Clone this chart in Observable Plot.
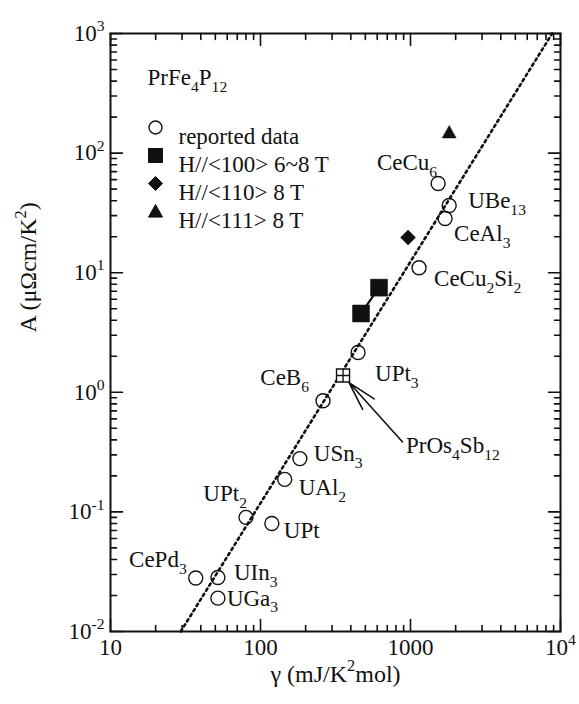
<!DOCTYPE html>
<html>
<head>
<meta charset="utf-8">
<script src="https://cdn.jsdelivr.net/npm/d3@7"></script>
<script src="https://cdn.jsdelivr.net/npm/@observablehq/plot@0.6"></script>
<style>
  html, body { margin: 0; padding: 0; background: white; }
  #chart { width: 579px; height: 704px; }
</style>
</head>
<body>
<div id="chart"></div>
<script>
// ---------------- data ----------------
const reportedNames = ["CePd_{3}", "UIn_{3}", "UGa_{3}", "UPt_{2}", "UPt", "UAl_{2}", "USn_{3}", "CeB_{6}", "UPt_{3}", "CeCu_{2}Si_{2}", "CeAl_{3}", "UBe_{13}", "CeCu_{6}"];
const reportedGamma = [37, 52, 52, 80, 119, 145, 183, 261, 447, 1140, 1700, 1811, 1528];
const reportedA     = [0.028, 0.0283, 0.019, 0.09, 0.08, 0.187, 0.279, 0.85, 2.15, 11, 28.4, 36.5, 55.7];

const h100Gamma = [468, 617];
const h100A     = [4.56, 7.5];
const h110Gamma = [963];
const h110A     = [19.7];
const h111Gamma = [1811];
const h111A     = [149];

const prosName  = "PrOs_{4}Sb_{12}";
const prosGamma = [355];
const prosA     = [1.38];

const kwGamma = [29.4, 8800];
const kwA     = [0.01, 1000];

const xTicks      = [10, 100, 1000, 10000];
const xTickLabels = ["10", "100", "1000", "10^{4}"];
const yTicks      = [0.01, 0.1, 1, 10, 100, 1000];
const yTickLabels = ["10^{-2}", "10^{-1}", "10^{0}", "10^{1}", "10^{2}", "10^{3}"];

const legendLabels = ["reported data", "H//<100> 6~8 T", "H//<110> 8 T", "H//<111> 8 T"];
const sampleTitle  = "PrFe_{4}P_{12}";
const xTitle = "γ (mJ/K^{2}mol)";
const yTitle = "A (μΩcm/K^{2})";

// ---------------- styling ----------------
const FONT = "'Liberation Serif', 'Times New Roman', serif";
const INK = "#111";
const labelStyle = {
  "CePd_{3}": {dx: -9, dy: -18, anchor: "end"},
  "UIn_{3}": {dx: 16, dy: -5, anchor: "start"},
  "UGa_{3}": {dx: 9, dy: 0, anchor: "start"},
  "UPt_{2}": {dx: 1, dy: -24, anchor: "end"},
  "UPt": {dx: 12, dy: 7, anchor: "start"},
  "UAl_{2}": {dx: 14, dy: 8, anchor: "start"},
  "USn_{3}": {dx: 14, dy: -5, anchor: "start"},
  "CeB_{6}": {dx: -14, dy: -23, anchor: "end"},
  "UPt_{3}": {dx: 17, dy: 21, anchor: "start"},
  "CeCu_{2}Si_{2}": {dx: 15, dy: 11, anchor: "start"},
  "CeAl_{3}": {dx: 9, dy: 15, anchor: "start"},
  "UBe_{13}": {dx: 19, dy: -5, anchor: "start"},
  "CeCu_{6}": {dx: -1, dy: -21, anchor: "end"}
};

// custom symbols: r = half extent
const rOf = (size) => Math.sqrt(size / Math.PI);
const symSquare = {draw(c, s) { const r = rOf(s); c.moveTo(-r, -r); c.lineTo(r, -r); c.lineTo(r, r); c.lineTo(-r, r); c.closePath(); }};
const symDiamond = {draw(c, s) { const r = rOf(s); c.moveTo(0, -r); c.lineTo(r, 0); c.lineTo(0, r); c.lineTo(-r, 0); c.closePath(); }};
const symTriangle = {draw(c, s) { const r = rOf(s); c.moveTo(0, -r); c.lineTo(r, 0.8 * r); c.lineTo(-r, 0.8 * r); c.closePath(); }};
const symSquarePlus = {draw(c, s) { const r = rOf(s); c.moveTo(-r, -r); c.lineTo(r, -r); c.lineTo(r, r); c.lineTo(-r, r); c.closePath(); c.moveTo(-r, 0); c.lineTo(r, 0); c.moveTo(0, -r); c.lineTo(0, r); }};
const tickShape = {draw(c, l) { c.moveTo(0, 0); c.lineTo(0, -l); }};
const arrowShape = {draw(c, l) {
  c.moveTo(0, 0); c.lineTo(0, -l);
  const hl = 30, a = 15 * Math.PI / 180;
  c.moveTo(-hl * Math.sin(a), -l + hl * Math.cos(a)); c.lineTo(0, -l); c.lineTo(hl * Math.sin(a), -l + hl * Math.cos(a));
}};

// ---------------- tables ----------------
const reported = reportedNames.map((n, i) => ({name: n, g: reportedGamma[i], a: reportedA[i]}));
const h100 = h100Gamma.map((g, i) => ({g, a: h100A[i]}));
const h110 = h110Gamma.map((g, i) => ({g, a: h110A[i]}));
const h111 = h111Gamma.map((g, i) => ({g, a: h111A[i]}));
const pros = prosGamma.map((g, i) => ({g, a: prosA[i]}));
const kw = kwGamma.map((g, i) => ({g, a: kwA[i]}));

const decadesMinor = (lo, hi) => { const out = []; for (let p = lo; p < hi; p++) for (let k = 2; k <= 9; k++) out.push(k * Math.pow(10, p)); return out; };
const xMinor = decadesMinor(1, 4);
const yMinor = decadesMinor(-2, 3);

const xFmt = new Map(xTicks.map((t, i) => [t, xTickLabels[i]]));
const yFmt = new Map(yTicks.map((t, i) => [t, yTickLabels[i]]));

const tickMarks = [];
const tk = (data, axis, len) => {
  const common = {shape: tickShape, length: len, anchor: "start", stroke: INK, strokeWidth: 1.6};
  if (axis === "x") {
    tickMarks.push(Plot.vector(data, {...common, x: d => d, frameAnchor: "bottom", rotate: 0}));
    tickMarks.push(Plot.vector(data, {...common, x: d => d, frameAnchor: "top", rotate: 180}));
  } else {
    tickMarks.push(Plot.vector(data, {...common, y: d => d, frameAnchor: "left", rotate: 90}));
    tickMarks.push(Plot.vector(data, {...common, y: d => d, frameAnchor: "right", rotate: 270}));
  }
};
tk(xTicks, "x", 12); tk(xMinor, "x", 6);
tk(yTicks, "y", 12); tk(yMinor, "y", 6);

const labelMarks = reported.map(d => {
  const st = labelStyle[d.name];
  return Plot.text([d], {x: "g", y: "a", text: "name", dx: st.dx, dy: st.dy, textAnchor: st.anchor, fontSize: 23, fill: INK});
});

const legendSymbols = ["circle", symSquare, symDiamond, symTriangle];
const legendR = [6.5, 7, 7, 7];
const legendMarks = [];
legendLabels.forEach((lab, i) => {
  const dy = 94 + 28 * i;
  legendMarks.push(Plot.dot([lab], {frameAnchor: "top-left", dx: 45, dy, symbol: legendSymbols[i], r: legendR[i],
    fill: i === 0 ? "none" : INK, stroke: INK, strokeWidth: i === 0 ? 1.4 : 1}));
  legendMarks.push(Plot.text([lab], {frameAnchor: "top-left", dx: 68, dy, text: d => d, textAnchor: "start", fontSize: 23, fill: INK}));
});

const chart = Plot.plot({
  width: 579,
  height: 704,
  marginLeft: 110,
  marginRight: 19,
  marginTop: 33,
  marginBottom: 73,
  style: {fontFamily: FONT, fontSize: "23px", color: INK, background: "white"},
  x: {type: "log", domain: [10, 10000]},
  y: {type: "log", domain: [0.01, 1000]},
  marks: [
    Plot.line(kw, {x: "g", y: "a", stroke: INK, strokeWidth: 2.6, strokeDasharray: "2.4,3.6"}),
    Plot.line(h100, {x: "g", y: "a", stroke: INK, strokeWidth: 2.2}),
    Plot.dot(h100, {x: "g", y: "a", symbol: symSquare, r: 8.5, fill: INK, stroke: INK, strokeWidth: 0.5}),
    Plot.dot(h110, {x: "g", y: "a", symbol: symDiamond, r: 7.5, fill: INK, stroke: INK, strokeWidth: 0.5}),
    Plot.dot(h111, {x: "g", y: "a", symbol: symTriangle, r: 7, fill: INK, stroke: INK, strokeWidth: 0.5}),
    Plot.dot(reported, {x: "g", y: "a", symbol: "circle", r: 7, fill: "none", stroke: INK, strokeWidth: 1.4}),
    Plot.dot(pros, {x: "g", y: "a", symbol: symSquarePlus, r: 6.5, fill: "white", stroke: INK, strokeWidth: 1.4}),
    Plot.vector(pros, {x: "g", y: "a", shape: arrowShape, length: 80, rotate: 318, anchor: "end", dx: 6, dy: 7, stroke: INK, strokeWidth: 1.6}),
    Plot.text(pros, {x: "g", y: "a", text: () => prosName, dx: 63, dy: 70, textAnchor: "start", fontSize: 23, fill: INK}),
    ...labelMarks,
    ...legendMarks,
    Plot.text([sampleTitle], {frameAnchor: "top-left", dx: 37, dy: 35, text: d => d, textAnchor: "start", fontSize: 23, fill: INK}),
    Plot.frame({stroke: INK, strokeWidth: 2}),
    ...tickMarks,
    Plot.axisX({ticks: xTicks, tickFormat: d => xFmt.get(d), tickSize: 0, tickPadding: 7, fontSize: 23, label: null}),
    Plot.axisY({ticks: yTicks, tickFormat: d => yFmt.get(d), tickSize: 0, tickPadding: 6, fontSize: 23, label: null}),
    Plot.text([xTitle], {frameAnchor: "bottom", dy: 50, text: d => d, fontSize: 24, fill: INK}),
    Plot.text([yTitle], {frameAnchor: "left", dx: -82, rotate: -90, text: d => d, fontSize: 24, fill: INK})
  ]
});

document.getElementById("chart").appendChild(chart);

// rich text: _{sub} and ^{sup}
function applyRich(root) {
  root.querySelectorAll("text").forEach(el => {
    const s = el.textContent;
    if (!/[_^]\{/.test(s)) return;
    const f = parseFloat(getComputedStyle(el).fontSize) || 23;
    const parts = [];
    const re = /([_^])\{([^}]*)\}/g;
    let last = 0, m;
    while ((m = re.exec(s))) {
      if (m.index > last) parts.push({t: s.slice(last, m.index), k: ""});
      parts.push({t: m[2], k: m[1]});
      last = re.lastIndex;
    }
    if (last < s.length) parts.push({t: s.slice(last), k: ""});
    while (el.firstChild) el.removeChild(el.firstChild);
    let cur = 0;
    for (const p of parts) {
      const target = p.k === "_" ? 0.3 * f : p.k === "^" ? -0.42 * f : 0;
      const ts = document.createElementNS("http://www.w3.org/2000/svg", "tspan");
      if (target !== cur) ts.setAttribute("dy", (target - cur).toFixed(2));
      cur = target;
      if (p.k) ts.setAttribute("font-size", (0.68 * f).toFixed(2));
      ts.textContent = p.t;
      el.appendChild(ts);
    }
  });
}
applyRich(chart);
</script>
</body>
</html>
